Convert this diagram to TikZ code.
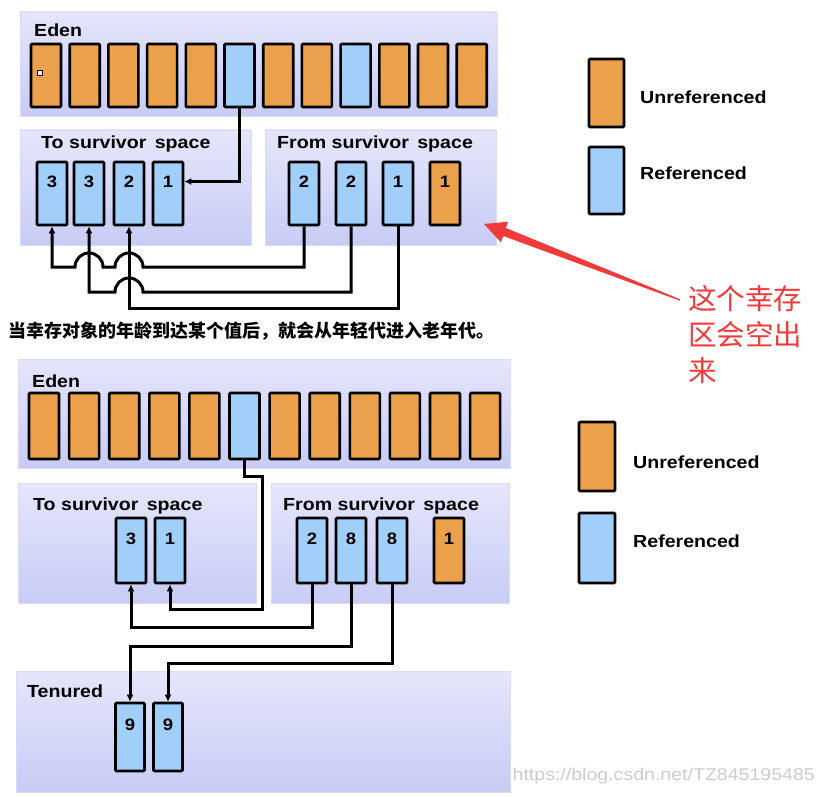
\documentclass[tikz,border=0pt]{standalone}
\usepackage{fontspec}
\setmainfont[FakeStretch=1.12]{Liberation Sans}
\newfontfamily\cjk{Noto Sans CJK SC}
\newfontfamily\markfont[FakeStretch=1.15]{Liberation Sans}
\usetikzlibrary{arrows.meta}
\definecolor{objorange}{HTML}{EBA04B}
\definecolor{objblue}{HTML}{A2CFF9}
\definecolor{heaptop}{HTML}{E5E6FB}
\definecolor{heapbot}{HTML}{C8CCF5}
\definecolor{notered}{HTML}{F23A3A}
\tikzset{
  heap/.style = {top color=heaptop, bottom color=heapbot, draw=heapbot!70, line width=0.6pt},
  cell/.style = {draw, line width=2.6pt, rounded corners=1pt, minimum width=30pt, minimum height=63pt,
    inner sep=0pt, text height=12pt, text depth=25pt, font=\fontsize{16.5}{18}\selectfont\bfseries},
  unref/.style = {cell, fill=objorange},
  refd/.style = {cell, fill=objblue},
  spacename/.style = {anchor=base west, inner sep=0pt, font=\fontsize{17.5}{20}\selectfont\bfseries},
  link/.style = {draw=black, line width=3pt, -{Latex[length=7pt,width=7pt]}},
}
\begin{document}
\begin{tikzpicture}[x=1pt, y=-1pt]
  \useasboundingbox (0,0) rectangle (824,797);
  % young generation, before
  \path[heap] (20,12) rectangle (497,116);
  \path[heap] (20,130) rectangle (251,245);
  \path[heap] (265,130) rectangle (496,245);
  \node[spacename] (eden) at (34,37) {Eden};
  \node[spacename] (to) at (41,148) {To survivor\, space};
  \node[spacename] (from) at (277,148) {From survivor\, space};
  \foreach \i/\f in {1/objorange,2/objorange,3/objorange,4/objorange,5/objorange,6/objblue,
                     7/objorange,8/objorange,9/objblue,10/objorange,11/objorange,12/objorange}
    \node[cell, fill=\f] (e\i) at ({46+(\i-1)*38.7},75.5) {};
  \node[draw, fill=white, line width=0.6pt, minimum size=5pt, inner sep=0pt] (dot) at (40,73) {};
  \node[refd] (to1) at (52,193.5) {3};
  \node[refd] (to2) at (89,193.5) {3};
  \node[refd] (to3) at (129,193.5) {2};
  \node[refd] (to4) at (168,193.5) {1};
  \node[refd] (from1) at (304,193.5) {2};
  \node[refd] (from2) at (351,193.5) {2};
  \node[refd] (from3) at (398,193.5) {1};
  \node[unref] (from4) at (445,193.5) {1};
  %
  \coordinate (hop1) at (143,267);
  \coordinate (hop2) at (143,292);
  \coordinate (hop3) at (129,308);
  \draw[link] (e6.south) |- ([yshift=12pt]to4.east);
  \draw[link] (from1.south) |- (hop1)
    arc[start angle=0, end angle=180, radius=14pt] -- (103,267)
    arc[start angle=0, end angle=180, radius=14pt] -| (to1.south);
  \draw[link] (from2.south) |- (hop2)
    arc[start angle=0, end angle=180, radius=14pt] -| (to2.south);
  \draw[link] (from3.south) |- (hop3) -- (to3.south);
  % legend
  \node[unref, minimum width=35pt, minimum height=68pt] (key1) at (606.5,93) {};
  \node[refd, minimum width=35pt, minimum height=67pt] (key2) at (606.5,180.5) {};
  \node[spacename, anchor=west] (key1text) at (640,97) {Unreferenced};
  \node[spacename, anchor=west] (key2text) at (640,173) {Referenced};
  % note
  \fill[notered] (680.2,299.3) -- (505.8,228) -- (508.1,221.7) -- (484,224)
    -- (500.9,242.3) -- (503.2,236) -- (679.8,300.7) -- cycle;
  \node[anchor=north west, inner sep=0pt, align=left, text=notered,
    font=\cjk\fontsize{28.5}{36}\selectfont] (note) at (688,285) {这个幸存\\区会空出\\来};
  \node[anchor=west, inner sep=0pt, font=\cjk\bfseries\fontsize{18}{20}\selectfont] (caption)
    at (8,331) {当幸存对象的年龄到达某个值后，就会从年轻代进入老年代。};
  % young generation, after
  \path[heap] (18,359) rectangle (510,468);
  \path[heap] (18,483) rectangle (256,603);
  \path[heap] (271,483) rectangle (509,603);
  \path[heap] (16,671) rectangle (510,792);
  \node[spacename] (edenb) at (32,387) {Eden};
  \node[spacename] (tob) at (33,510) {To survivor\, space};
  \node[spacename] (fromb) at (283,510) {From survivor\, space};
  \node[spacename] (old) at (27,697) {Tenured};
  \foreach \i/\f in {1/objorange,2/objorange,3/objorange,4/objorange,5/objorange,6/objblue,
                     7/objorange,8/objorange,9/objorange,10/objorange,11/objorange,12/objorange}
    \node[cell, fill=\f, minimum height=66pt] (eb\i) at ({44+(\i-1)*40.1},426) {};
  \node[refd, minimum height=65pt] (tob1) at (131,550.5) {3};
  \node[refd, minimum height=65pt] (tob2) at (170,550.5) {1};
  \node[refd, minimum height=65pt] (fromb1) at (312,550.5) {2};
  \node[refd, minimum height=65pt] (fromb2) at (351,550.5) {8};
  \node[refd, minimum height=65pt] (fromb3) at (392,550.5) {8};
  \node[unref, minimum height=65pt] (fromb4) at (449,550.5) {1};
  \node[refd, minimum width=29pt, minimum height=68pt] (old1) at (130,737) {9};
  \node[refd, minimum width=29pt, minimum height=68pt] (old2) at (168,737) {9};
  %
  \coordinate (bend1) at (262,609);
  \coordinate (bend2) at (131,627);
  \coordinate (bend3) at (130,646);
  \coordinate (bend4) at (168,663);
  \draw[link] (eb6.south) -- ++(0,16) -| (bend1) -| (tob2.south);
  \draw[link] (fromb1.south) |- (bend2) -- (tob1.south);
  \draw[link] (fromb2.south) |- (bend3) -- (old1.north);
  \draw[link] (fromb3.south) |- (bend4) -- (old2.north);
  % legend
  \node[unref, minimum width=36pt, minimum height=69pt] (key3) at (597,456.5) {};
  \node[refd, minimum width=36pt, minimum height=70pt] (key4) at (597,548) {};
  \node[spacename, anchor=west] (key3text) at (633,462) {Unreferenced};
  \node[spacename, anchor=west] (key4text) at (633,541) {Referenced};
  \node[anchor=east, inner sep=0pt, text=black!20, font=\markfont\fontsize{17}{18}\selectfont] (mark)
    at (815,776) {https://blog.csdn.net/TZ845195485};
\end{tikzpicture}
\end{document}
